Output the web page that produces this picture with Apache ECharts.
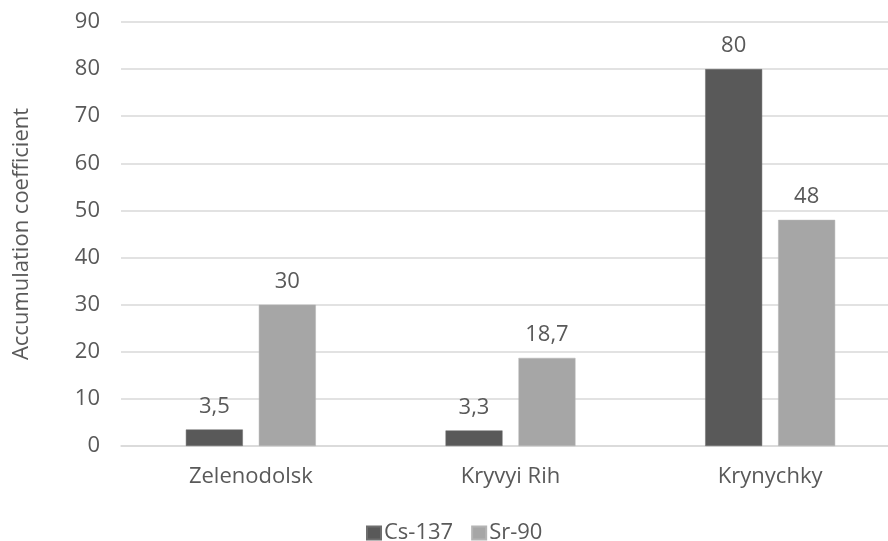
<!DOCTYPE html>
<html>
<head>
<meta charset="utf-8">
<script src="https://cdn.jsdelivr.net/npm/echarts@6/dist/echarts.min.js"></script>
<style>
  html, body { margin: 0; padding: 0; background: #fff; }
  #chart { width: 888px; height: 541px; }
</style>
</head>
<body>
<div id="chart"></div>
<script>
// Sites and accumulation coefficients per radionuclide
const sites = ['Zelenodolsk', 'Kryvyi Rih', 'Krynychky'];
const cs137 = [3.5, 3.3, 80];
const sr90 = [30, 18.7, 48];
const yTicks = { min: 0, max: 90, interval: 10 };

const FONT = '"Open Sans", "Segoe UI", sans-serif';
const TEXT = '#595959';
const SIZE = 22;

// Values are written with a decimal comma
const fmtComma = p => String(p.value).replace('.', ',');

const chart = echarts.init(document.getElementById('chart'));
chart.setOption({
  animation: false,
  textStyle: { fontFamily: FONT },
  // plot runs a little past the right edge of the canvas
  grid: { left: 121, width: 779, top: 22, bottom: 95, containLabel: false, outerBoundsMode: 'none' },
  legend: {
    bottom: -3,
    left: 366,
    padding: 0,
    itemWidth: 14,
    itemHeight: 13,
    itemGap: 18,
    icon: 'rect',
    textStyle: { color: TEXT, fontSize: SIZE, fontFamily: FONT, padding: [0, 0, 0, -2] },
    data: ['Cs-137', 'Sr-90']
  },
  xAxis: {
    type: 'category',
    data: sites,
    axisLine: { show: true, lineStyle: { color: '#d9d9d9', width: 1.5 } },
    axisTick: { show: false },
    axisLabel: { color: TEXT, fontSize: SIZE, margin: 20, fontFamily: FONT }
  },
  yAxis: {
    type: 'value',
    min: yTicks.min,
    max: yTicks.max,
    interval: yTicks.interval,
    name: 'Accumulation coefficient',
    nameLocation: 'middle',
    nameGap: 88,
    nameTextStyle: { color: TEXT, fontSize: SIZE, fontFamily: FONT },
    axisLine: { show: false },
    axisTick: { show: false },
    axisLabel: { color: TEXT, fontSize: SIZE, margin: 21, fontFamily: FONT },
    splitLine: { lineStyle: { color: '#d9d9d9', width: 1.5 } }
  },
  series: [
    {
      name: 'Cs-137',
      type: 'bar',
      data: cs137,
      barWidth: 57,
      barGap: '28%',
      itemStyle: { color: '#595959', borderColor: '#6e6e6e', borderWidth: 0.5 },
      label: { show: true, position: 'top', distance: 12, color: TEXT, fontSize: SIZE, fontFamily: FONT, formatter: fmtComma }
    },
    {
      name: 'Sr-90',
      type: 'bar',
      data: sr90,
      barWidth: 57,
      barGap: '28%',
      itemStyle: { color: '#a6a6a6', borderColor: '#b4b4b4', borderWidth: 0.5 },
      label: { show: true, position: 'top', distance: 12, color: TEXT, fontSize: SIZE, fontFamily: FONT, formatter: fmtComma }
    }
  ]
});
</script>
</body>
</html>
